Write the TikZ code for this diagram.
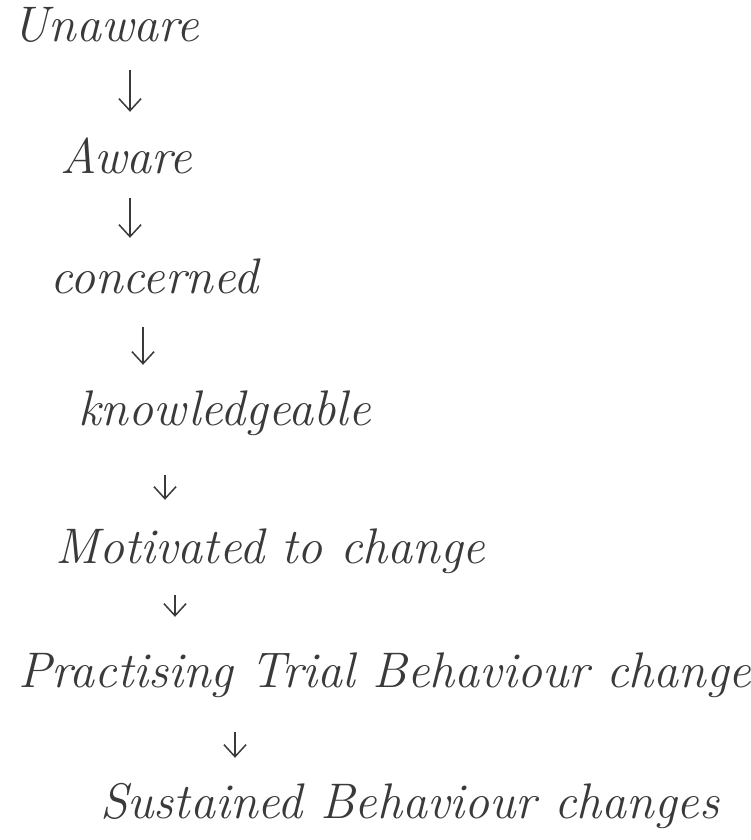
\documentclass[tikz,border=0pt]{standalone}
\usepackage{tikz}
\usetikzlibrary{arrows.meta}
\definecolor{ink}{HTML}{3A3A3A}

\begin{document}
\begin{tikzpicture}[x=1pt, y=1pt,
	stage/.style = {anchor=base west, inner sep=0pt, text height=30pt, text depth=10pt, text=ink, font=\fontsize{50}{56}\selectfont\itshape},
	flow/.style = {draw=ink, line width=1.5pt, -{Straight Barb[length=12pt, width=22pt]}}]
				%page
				\useasboundingbox (0,0) rectangle (751,-840);
				%stages
				\node[stage] (unaware) at (12,-42) {Unaware};
				\node[stage] (aware) at (60,-173) {Aware};
				\node[stage] (concerned) at (50,-293) {concerned};
				\node[stage] (knowledge) at (78,-425) {knowledgeable};
				\node[stage] (motivated) at (55,-563) {Motivated to change};
				\node[stage] (trial) at (18,-687) {Practising Trial Behaviour change};
				\node[stage] (sustained) at (100,-818) {Sustained Behaviour changes};
				%arrows between stages
				\draw[flow] ([xshift=118pt, yshift=-18pt]unaware.south west) -- ([xshift=70pt, yshift=31pt]aware.north west);
				\draw[flow] ([xshift=70pt, yshift=-15pt]aware.south west) -- ([xshift=80pt, yshift=25pt]concerned.north west);
				\draw[flow] ([xshift=93pt, yshift=-24pt]concerned.south west) -- ([xshift=65pt, yshift=30pt]knowledge.north west);
				\draw[flow] ([xshift=87pt, yshift=-40pt]knowledge.south west) -- ([xshift=110pt, yshift=33pt]motivated.north west);
				\draw[flow] ([xshift=120pt, yshift=-22pt]motivated.south west) -- ([xshift=157pt, yshift=40pt]trial.north west);
				\draw[flow] ([xshift=217pt, yshift=-35pt]trial.south west) -- ([xshift=135pt, yshift=30pt]sustained.north west);
\end{tikzpicture}
\end{document}
